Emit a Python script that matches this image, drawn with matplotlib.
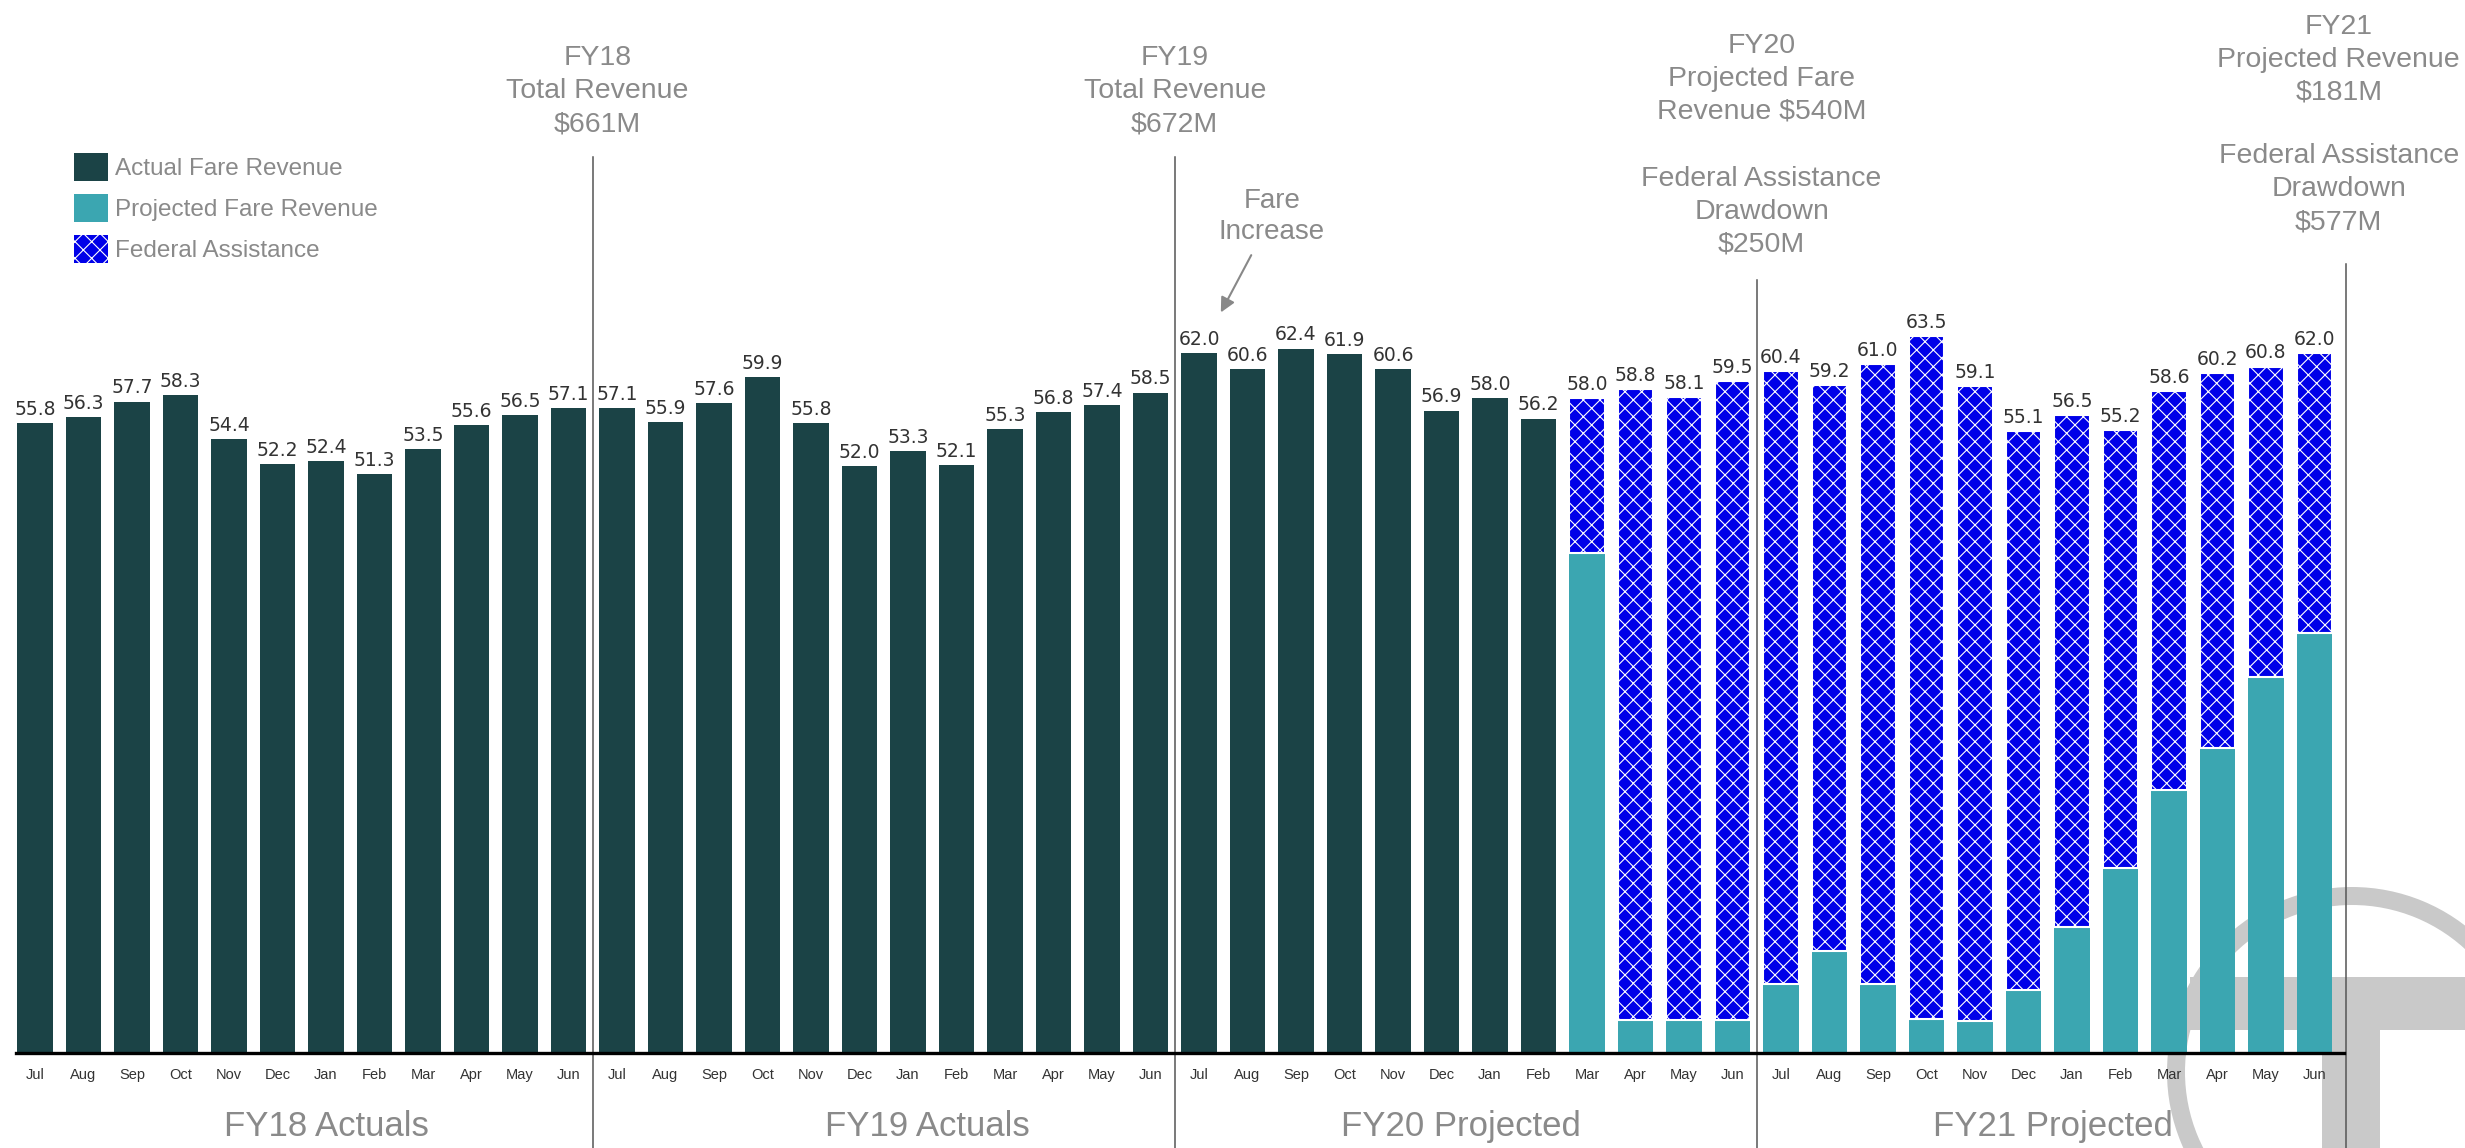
import matplotlib
matplotlib.use("Agg")
from matplotlib import pyplot as plt
from matplotlib.patches import Wedge, Rectangle, Patch
import numpy as np

months = ["Jul", "Aug", "Sep", "Oct", "Nov", "Dec", "Jan", "Feb", "Mar", "Apr", "May", "Jun"]
period_labels = ["FY18 Actuals", "FY19 Actuals", "FY20 Projected", "FY21 Projected"]

# Monthly fare revenue ($M)
fy18_actual = [55.8, 56.3, 57.7, 58.3, 54.4, 52.2, 52.4, 51.3, 53.5, 55.6, 56.5, 57.1]
fy19_actual = [57.1, 55.9, 57.6, 59.9, 55.8, 52.0, 53.3, 52.1, 55.3, 56.8, 57.4, 58.5]
fy20_actual = [62.0, 60.6, 62.4, 61.9, 60.6, 56.9, 58.0, 56.2]  # Jul-Feb
# Mar-Jun FY20 and all of FY21: total (fare + federal) and projected fare part
fy20_proj_total = [58.0, 58.8, 58.1, 59.5]
fy20_proj_fare = [44.3, 2.9, 2.9, 2.9]
fy21_proj_total = [60.4, 59.2, 61.0, 63.5, 59.1, 55.1, 56.5, 55.2, 58.6, 60.2, 60.8, 62.0]
fy21_proj_fare = [6.1, 9.0, 6.1, 3.0, 2.8, 5.6, 11.2, 16.4, 23.3, 27.0, 33.3, 37.2]

DARK = "#1b4346"
TEAL = "#3ba6b1"
BLUE = "#0000e8"
GRAY = "#8a8a8a"
SANS = ["Liberation Sans", "DejaVu Sans"]

plt.rcParams["hatch.linewidth"] = 0.8

actual = np.array(fy18_actual + fy19_actual + fy20_actual)
proj_total = np.array(fy20_proj_total + fy21_proj_total)
proj_fare = np.array(fy20_proj_fare + fy21_proj_fare)
federal = proj_total - proj_fare

x = np.arange(len(actual) + len(proj_total))
x_act = x[: len(actual)]
x_proj = x[len(actual):]

W, H = 2465, 1148
fig = plt.figure(figsize=(W / 100, H / 100), dpi=100)
ax = fig.add_axes([15.6 / W, 95 / H, 2328 / W, 1016 / H])
ax.patch.set_alpha(0)


# faint logo in the lower right corner, behind the bars
def px(xp, yp):
    return xp / 100, (H - yp) / 100


logo = "#c9c9c9"
ring = Wedge(px(2352, 1072), 1.85, 0, 360, width=0.18, facecolor=logo,
             edgecolor="none", transform=fig.dpi_scale_trans, zorder=-5)
t_bar = Rectangle(px(2190, 1030), 3.3, 0.53, facecolor=logo, edgecolor="none",
                  transform=fig.dpi_scale_trans, zorder=-5)
t_stem = Rectangle(px(2322, 1160), 0.58, 1.83, facecolor=logo, edgecolor="none",
                   transform=fig.dpi_scale_trans, zorder=-5)
for p in (ring, t_bar, t_stem):
    fig.add_artist(p)

bw = 0.74
b_act = ax.bar(x_act, actual, bw, color=DARK, zorder=3)
b_fare = ax.bar(x_proj, proj_fare, bw, color=TEAL, zorder=3)
b_fed = ax.bar(x_proj, federal, bw, bottom=proj_fare, facecolor=BLUE,
               edgecolor="white", linewidth=1.5, hatch="xx", zorder=3)

lbl = dict(fontsize=13.5, color="#333333", padding=3)
ax.bar_label(b_act, fmt="%.1f", **lbl)
ax.bar_label(b_fed, labels=[f"{v:.1f}" for v in proj_total], **lbl)

ax.set_xlim(-0.4, 47.6)
ax.set_ylim(0, 90)
ax.set_yticks([])
for side in ("top", "right", "left"):
    ax.spines[side].set_visible(False)
ax.spines["bottom"].set_linewidth(2.4)
ax.spines["bottom"].set_zorder(4)
ax.set_xticks(x, months * 4)
ax.tick_params(axis="x", length=0, pad=11, labelsize=10.5, labelcolor="#333333")
for t in ax.get_xticklabels():
    t.set_family(["Liberation Sans Narrow", "Liberation Sans"])

# fiscal year separators
for xs, ytop in [(11.5, 79.4), (23.5, 79.4), (35.5, 68.5), (47.65, 69.9)]:
    ax.plot([xs, xs], [-9, ytop], color="#555555", lw=1.1, clip_on=False, zorder=2)

for xc, name in zip([6.0, 18.4, 29.4, 41.6], period_labels):
    ax.text(xc, -6.5, name, ha="center", va="center", fontsize=25, color=GRAY,
            family=SANS, clip_on=False)

note = dict(ha="center", va="center", fontsize=20.5, color=GRAY, family=SANS,
            linespacing=1.35, clip_on=False)
ax.text(11.6, 85.2, "FY18\nTotal Revenue\n$661M", **note)
ax.text(23.5, 85.2, "FY19\nTotal Revenue\n$672M", **note)
ax.text(35.6, 86.3, "FY20\nProjected Fare\nRevenue $540M", **note)
ax.text(35.6, 74.5, "Federal Assistance\nDrawdown\n$250M", **note)
ax.text(47.5, 88.0, "FY21\nProjected Revenue\n$181M", **note)
ax.text(47.5, 76.5, "Federal Assistance\nDrawdown\n$577M", **note)

ax.annotate("Fare\nIncrease", xy=(24.45, 65.6), xytext=(25.5, 74.1),
            ha="center", va="center", fontsize=20, color=GRAY, family=SANS,
            linespacing=1.25,
            arrowprops=dict(arrowstyle="-|>", color="#888888", lw=1.5,
                            mutation_scale=22, shrinkA=6, shrinkB=0))

handles = [Patch(facecolor=DARK, label="Actual Fare Revenue"),
           Patch(facecolor=TEAL, label="Projected Fare Revenue"),
           Patch(facecolor=BLUE, edgecolor="white", hatch="xx", linewidth=0,
                 label="Federal Assistance")]
leg = fig.legend(handles=handles, loc="upper left", bbox_to_anchor=(74 / W, 1 - 153 / H),
                 frameon=False, borderpad=0, borderaxespad=0, handlelength=1.4,
                 handleheight=1.4, handletextpad=0.3, labelspacing=0.53,
                 prop={"family": SANS, "size": 17.5})
for t in leg.get_texts():
    t.set_color(GRAY)

fig.savefig("out.png", dpi=100)
